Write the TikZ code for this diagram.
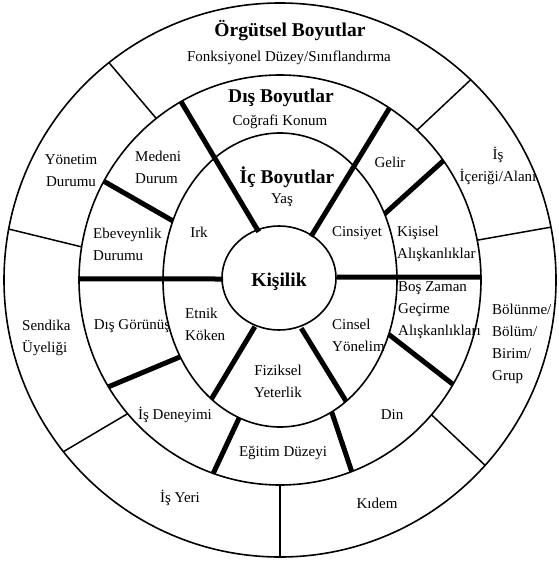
\documentclass[tikz,border=0pt]{standalone}
\usepackage{fontspec}
\setmainfont{Liberation Serif}
% #1 style, #2/#3 radii of first ellipse, #4 angle, #5/#6 radii of second, #7 angle
\newcommand\divline[7]{\draw[#1] ({280+#2*cos(#4)},{280+#3*sin(#4)}) -- ({280+#5*cos(#7)},{280+#6*sin(#7)});}
\begin{document}
\begin{tikzpicture}[x=1pt,y=-1pt,
  ring/.style={line width=1.6pt},
  divthin/.style={line width=1.5pt},
  divthick/.style={line width=5pt},
  lbl/.style={font=\fontsize{15}{22}\selectfont, inner sep=0pt, align=center},
  lbll/.style={lbl, align=left, anchor=west},
  ttl/.style={font=\fontsize{19.5}{22}\selectfont\bfseries, inner sep=0pt}]
\useasboundingbox[fill=white] (0,0) rectangle (558,561);
\coordinate (C) at (280,280);
% rings
\draw[ring] (C) ellipse [x radius=276, y radius=277];
\draw[ring] (C) ellipse [x radius=201, y radius=205];
\draw[ring] (C) ellipse [x radius=117, y radius=147];
\draw[ring] (279,278) ellipse [x radius=57, y radius=52];
% thick dividers
\divline{divthick}{201}{205}{-119.5}{57}{52}{-112}
\divline{divthick}{201}{205}{-57}{57}{52}{-57}
\divline{divthick}{201}{205}{-179.7}{57}{52}{-178.9}
\divline{divthick}{201}{205}{-0.8}{57}{52}{-3.3}
\divline{divthick}{201}{205}{-151.2}{117}{147}{-156.3}
\divline{divthick}{201}{205}{-35.6}{117}{147}{-26.7}
\divline{divthick}{201}{205}{148.6}{117}{147}{148.5}
\divline{divthick}{201}{205}{30.6}{117}{147}{21.7}
\divline{divthick}{117}{147}{125.9}{57}{52}{116.2}
\divline{divthick}{117}{147}{55.6}{57}{52}{68.1}
\divline{divthick}{201}{205}{109.4}{117}{147}{110.4}
\divline{divthick}{201}{205}{69.1}{117}{147}{63.8}
% thin dividers
\divline{divthin}{276}{277}{-128.3}{201}{205}{-128}
\divline{divthin}{276}{277}{-46.3}{201}{205}{-47}
\divline{divthin}{276}{277}{-169.4}{201}{205}{-170.7}
\divline{divthin}{276}{277}{-11}{201}{205}{-11.2}
\divline{divthin}{276}{277}{141.7}{201}{205}{139.3}
\divline{divthin}{276}{277}{90}{201}{205}{90}
\divline{divthin}{276}{277}{42}{201}{205}{41.1}
% titles
\node[ttl] (org) at (290,31) {Örgütsel Boyutlar};
\node[lbl] (fonk) at (289,58) {Fonksiyonel Düzey/Sınıflandırma};
\node[ttl] (dis) at (281,98) {Dış Boyutlar};
\node[lbl] (cog) at (280,122) {Coğrafi Konum};
\node[ttl] (ic) at (287,177) {İç Boyutlar};
\node[lbl] (yas) at (282,200) {Yaş};
\node[ttl] (kis) at (279,282) {Kişilik};
% outer ring labels
\node[lbl] (yon) at (71,170.5) {Yönetim\\Durumu};
\node[lbl] (is) at (498,166) {İş\\İçeriği/Alanı};
\node[lbll] (bol) at (492,344) {Bölünme/\\Bölüm/\\Birim/\\Grup};
\node[lbll] (sen) at (22,337.5) {Sendika\\Üyeliği};
\node[lbl] (isy) at (180,498) {İş Yeri};
\node[lbl] (kid) at (377,503) {Kıdem};
% middle ring labels
\node[lbll] (med) at (135,167.5) {Medeni\\Durum};
\node[lbl] (gel) at (390,162) {Gelir};
\node[lbll] (ebe) at (93,244) {Ebeveynlik\\Durumu};
\node[lbll] (kisa) at (397,244) {Kişisel\\Alışkanlıklar};
\node[lbll] (bos) at (398,310) {Boş Zaman\\Geçirme\\Alışkanlıkları};
\node[lbl] (dg) at (132,326) {Dış Görünüş};
\node[lbl] (isd) at (175,415) {İş Deneyimi};
\node[lbl] (egt) at (283,453) {Eğitim Düzeyi};
\node[lbl] (din) at (392,415) {Din};
% inner ring labels
\node[lbl] (irk) at (199,232) {Irk};
\node[lbl] (cins) at (357,233) {Cinsiyet};
\node[lbll] (etn) at (185,324) {Etnik\\Köken};
\node[lbll] (cy) at (332,335) {Cinsel\\Yönelim};
\node[lbl] (fiz) at (278,381.5) {Fiziksel\\Yeterlik};
\end{tikzpicture}
\end{document}
